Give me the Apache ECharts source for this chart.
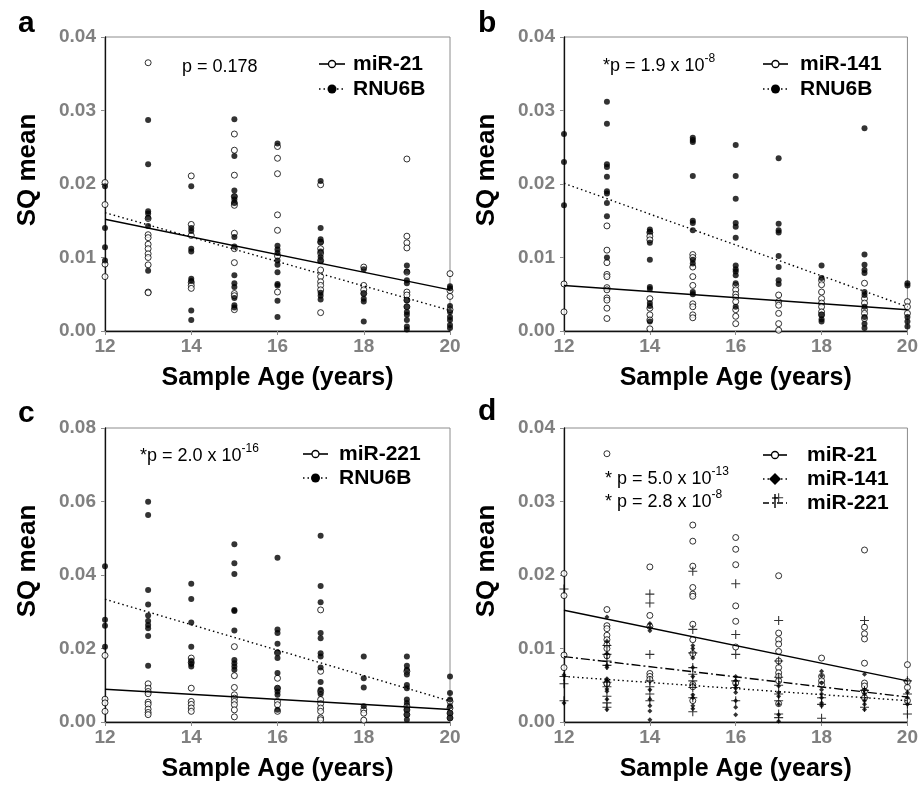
<!DOCTYPE html>
<html>
<head>
<meta charset="utf-8">
<script src="https://cdn.jsdelivr.net/npm/echarts@6/dist/echarts.min.js"></script>
<style>
html,body{margin:0;padding:0;background:#fff;}
#chart{width:921px;height:785px;}
</style>
</head>
<body>
<div id="chart"></div>
<script>
// ---------- DATA ----------
const ages = [12, 13, 14, 15, 16, 17, 18, 19, 20];
const fitAges = [12, 20];

// miR-21 SQ mean values per age (panels a and d)
const mir21 = [
  [0.0202, 0.0172, 0.0091, 0.0074],
  [0.0365, 0.0153, 0.0131, 0.0127, 0.0118, 0.0112, 0.0105, 0.0100, 0.0090, 0.0053, 0.0052],
  [0.0211, 0.0145, 0.0130, 0.0066, 0.0062, 0.0058],
  [0.0268, 0.0246, 0.0212, 0.0183, 0.0174, 0.0171, 0.0133, 0.0112, 0.0093, 0.0051, 0.0048, 0.0029],
  [0.0251, 0.0235, 0.0214, 0.0158, 0.0137, 0.0102, 0.0053],
  [0.0199, 0.0121, 0.0112, 0.0106, 0.0096, 0.0083, 0.0074, 0.0067, 0.0062, 0.0056, 0.0025],
  [0.0087, 0.0062, 0.0056, 0.0051],
  [0.0234, 0.0129, 0.0120, 0.0113, 0.0080, 0.0053, 0.0049, 0.0042, 0.0033],
  [0.0078, 0.0055, 0.0047, 0.0029]
];
// RNU6B values in panel a
const rnu6bA = [
  [0.0197, 0.0140, 0.0114, 0.0096],
  [0.0287, 0.0227, 0.0163, 0.0160, 0.0154, 0.0143, 0.0082],
  [0.0197, 0.0140, 0.0136, 0.0112, 0.0108, 0.0071, 0.0068, 0.0028, 0.0015],
  [0.0288, 0.0238, 0.0191, 0.0183, 0.0179, 0.0174, 0.0128, 0.0115, 0.0076, 0.0065, 0.0060, 0.0045, 0.0035, 0.0032],
  [0.0255, 0.0116, 0.0111, 0.0106, 0.0096, 0.0090, 0.0080, 0.0064, 0.0062, 0.0041, 0.0019],
  [0.0204, 0.0140, 0.0125, 0.0121, 0.0108, 0.0101, 0.0095, 0.0052, 0.0048, 0.0043],
  [0.0084, 0.0051, 0.0044, 0.0040, 0.0013],
  [0.0089, 0.0081, 0.0069, 0.0065, 0.0042, 0.0033, 0.0026, 0.0022, 0.0015, 0.0006, 0.0002],
  [0.0061, 0.0058, 0.0034, 0.0026, 0.0019, 0.0015, 0.0008, 0.0004]
];
// miR-141 values (panels b and d)
const mir141 = [
  [0.0064, 0.0026],
  [0.0143, 0.0110, 0.0093, 0.0077, 0.0074, 0.0059, 0.0056, 0.0045, 0.0042, 0.0031, 0.0017],
  [0.0134, 0.0129, 0.0124, 0.0044, 0.0031, 0.0022, 0.0015, 0.0003],
  [0.0104, 0.0100, 0.0087, 0.0074, 0.0062, 0.0037, 0.0033, 0.0022, 0.0018],
  [0.0062, 0.0056, 0.0050, 0.0046, 0.0040, 0.0029, 0.0020, 0.0010],
  [0.0049, 0.0040, 0.0035, 0.0024, 0.0010, 0.0001],
  [0.0069, 0.0063, 0.0053, 0.0044, 0.0038, 0.0033, 0.0026, 0.0022],
  [0.0065, 0.0044, 0.0038, 0.0029, 0.0024, 0.0017],
  [0.0040, 0.0033, 0.0024]
];
// RNU6B values in panel b
const rnu6bB = [
  [0.0268, 0.0230, 0.0171],
  [0.0312, 0.0282, 0.0227, 0.0223, 0.0210, 0.0190, 0.0187, 0.0174, 0.0156, 0.0100],
  [0.0138, 0.0135, 0.0120, 0.0097, 0.0060, 0.0057, 0.0038, 0.0034, 0.0013],
  [0.0263, 0.0260, 0.0257, 0.0211, 0.0150, 0.0147, 0.0137, 0.0097, 0.0092, 0.0053, 0.0050],
  [0.0253, 0.0211, 0.0180, 0.0147, 0.0142, 0.0127, 0.0089, 0.0084, 0.0081, 0.0076, 0.0065, 0.0033],
  [0.0235, 0.0146, 0.0137, 0.0134, 0.0102, 0.0087, 0.0069, 0.0064],
  [0.0089, 0.0072, 0.0022, 0.0016, 0.0013],
  [0.0276, 0.0104, 0.0090, 0.0083, 0.0079, 0.0053, 0.0049, 0.0033, 0.0019, 0.0010, 0.0004],
  [0.0065, 0.0062, 0.0019, 0.0013, 0.0006]
];
// miR-221 values (panels c and d)
const mir221 = [
  [0.0181, 0.0062, 0.0052, 0.0029],
  [0.0104, 0.0092, 0.0083, 0.0077, 0.0054, 0.0048, 0.0035, 0.0026, 0.0020],
  [0.0174, 0.0162, 0.0092, 0.0056, 0.0048, 0.0038, 0.0029],
  [0.0205, 0.0126, 0.0094, 0.0074, 0.0065, 0.0056, 0.0047, 0.0033, 0.0014],
  [0.0188, 0.0119, 0.0092, 0.0056, 0.0047, 0.0029],
  [0.0305, 0.0138, 0.0083, 0.0061, 0.0050, 0.0038, 0.0029, 0.0011, 0.0006],
  [0.0033, 0.0024, 0.0005],
  [0.0138, 0.0043, 0.0033, 0.0020],
  [0.0056, 0.0038, 0.0024, 0.0011]
];
// RNU6B values in panel c
const rnu6bC = [
  [0.0424, 0.0278, 0.0262, 0.0205],
  [0.0599, 0.0563, 0.0359, 0.0320, 0.0290, 0.0275, 0.0264, 0.0255, 0.0234, 0.0153],
  [0.0376, 0.0335, 0.0271, 0.0205, 0.0167, 0.0158, 0.0151],
  [0.0484, 0.0432, 0.0403, 0.0305, 0.0302, 0.0249, 0.0169, 0.0160, 0.0151, 0.0142],
  [0.0447, 0.0252, 0.0242, 0.0213, 0.0190, 0.0174, 0.0133, 0.0092, 0.0083, 0.0074, 0.0033],
  [0.0507, 0.0370, 0.0326, 0.0242, 0.0228, 0.0187, 0.0178, 0.0148, 0.0109, 0.0088, 0.0076],
  [0.0178, 0.0119, 0.0094, 0.0043],
  [0.0178, 0.0153, 0.0142, 0.0129, 0.0101, 0.0092, 0.0061, 0.0052, 0.0033, 0.0020, 0.0006],
  [0.0124, 0.0079, 0.0061, 0.0043, 0.0024, 0.0011]
];
// regression lines (value at age 12 and at age 20)
const mir21Fit = [0.0152, 0.0056];
const rnu6bFitA = [0.0161, 0.0028];
const mir141Fit = [0.0062, 0.0029];
const rnu6bFitB = [0.0201, 0.0033];
const mir221Fit = [0.0089, 0.0034];
const rnu6bFitC = [0.0334, 0.0057];

const yMaxes = [0.04, 0.04, 0.08, 0.04];
const yIntervals = [0.01, 0.01, 0.02, 0.01];
const xTitle = 'Sample Age (years)';
const yTitle = 'SQ mean';

// ---------- BUILD ----------
const FONT = '"Liberation Sans", Arial, sans-serif';
function pts(vals) {
  const out = [];
  ages.forEach((a, i) => vals[i].forEach(v => out.push([a, v])));
  return out;
}
function fit(vals) { return fitAges.map((a, i) => [a, vals[i]]); }

const grids = [
  {left: 105, top: 37, width: 345, height: 294},
  {left: 564, top: 37, width: 345, height: 294},
  {left: 105, top: 428, width: 345, height: 294},
  {left: 564, top: 428, width: 345, height: 294}
].map(g => Object.assign(g, {show: true, borderColor: '#8c8c8c', borderWidth: 1, containLabel: false}));

const xAxes = grids.map((g, i) => ({
  type: 'value', gridIndex: i, min: 12, max: 20, interval: 2,
  name: xTitle, nameLocation: 'middle', nameGap: 35,
  nameTextStyle: {fontFamily: FONT, fontWeight: 'bold', fontSize: 25, color: '#000'},
  axisLine: {show: true, onZero: false, lineStyle: {color: '#111', width: 1.3}},
  axisTick: {show: true, length: 4, lineStyle: {color: '#8c8c8c'}},
  axisLabel: {fontFamily: FONT, fontWeight: 'bold', fontSize: 19, color: '#808080', margin: 6},
  splitLine: {show: false}
}));
const yAxes = grids.map((g, i) => ({
  type: 'value', gridIndex: i, min: 0, max: yMaxes[i], interval: yIntervals[i],
  name: yTitle, nameLocation: 'middle', nameGap: 64, nameRotate: 90,
  nameTextStyle: {fontFamily: FONT, fontWeight: 'bold', fontSize: 26, color: '#000', padding: [0, 0, 0, 28]},
  axisLine: {show: true, lineStyle: {color: '#111', width: 1.3}},
  axisTick: {show: true, length: 4, lineStyle: {color: '#8c8c8c'}},
  axisLabel: {fontFamily: FONT, fontWeight: 'bold', fontSize: 19, color: '#808080', margin: 9,
    formatter: v => v.toFixed(2)},
  splitLine: {show: false}
}));

const openStyle = {color: '#fff', borderColor: '#000', borderWidth: 1};
const fillStyle = {color: '#000'};
const PLUS = 'path://M4.4,0h1.2v4.4h4.4v1.2h-4.4v4.4h-1.2v-4.4h-4.4v-1.2h4.4z';

function scatter(idx, name, vals, style, symbol, size) {
  return {type: 'scatter', name: name, xAxisIndex: idx, yAxisIndex: idx, data: pts(vals),
    symbol: symbol || 'circle', symbolSize: size || 6, itemStyle: style, z: 2};
}
function line(idx, name, vals, type) {
  return {type: 'line', name: name, xAxisIndex: idx, yAxisIndex: idx, data: fit(vals),
    symbol: 'none', silent: true, z: 3,
    lineStyle: {color: '#000', width: 1.4, type: type}};
}
const DOT = [1.5, 3];
const DASHDOT = [9, 3, 2, 3];

const series = [
  scatter(0, 'miR-21', mir21, openStyle),
  scatter(0, 'RNU6B', rnu6bA, fillStyle),
  line(0, 'miR-21 fit', mir21Fit, 'solid'),
  line(0, 'RNU6B fit', rnu6bFitA, DOT),

  scatter(1, 'miR-141', mir141, openStyle),
  scatter(1, 'RNU6B', rnu6bB, fillStyle),
  line(1, 'miR-141 fit', mir141Fit, 'solid'),
  line(1, 'RNU6B fit', rnu6bFitB, DOT),

  scatter(2, 'miR-221', mir221, openStyle),
  scatter(2, 'RNU6B', rnu6bC, fillStyle),
  line(2, 'miR-221 fit', mir221Fit, 'solid'),
  line(2, 'RNU6B fit', rnu6bFitC, DOT),

  scatter(3, 'miR-21', mir21, openStyle),
  scatter(3, 'miR-141', mir141, fillStyle, 'diamond', 5),
  scatter(3, 'miR-221', mir221, fillStyle, PLUS, 9),
  line(3, 'miR-21 fit', mir21Fit, 'solid'),
  line(3, 'miR-141 fit', mir141Fit, DOT),
  line(3, 'miR-221 fit', mir221Fit, DASHDOT)
];

// ---------- ANNOTATIONS (legends, p-values, panel letters) ----------
const graphics = [];
function txt(x, y, text, font, align) {
  graphics.push({type: 'text', silent: true, z: 10,
    style: {x: x, y: y, text: text, font: font, fill: '#000', align: align || 'left', verticalAlign: 'middle'}});
}
function legendRow(x1, x2, y, dash, marker, tx, label) {
  graphics.push({type: 'line', silent: true, z: 10, shape: {x1: x1, y1: y, x2: x2, y2: y},
    style: {stroke: '#000', lineWidth: 1.6, lineDash: dash}});
  const cx = (x1 + x2) / 2;
  if (marker === 'open') {
    graphics.push({type: 'circle', silent: true, z: 11, shape: {cx: cx, cy: y, r: 3.5},
      style: {fill: '#fff', stroke: '#000', lineWidth: 1.3}});
  } else if (marker === 'filled') {
    graphics.push({type: 'circle', silent: true, z: 11, shape: {cx: cx, cy: y, r: 4.5},
      style: {fill: '#000'}});
  } else if (marker === 'diamond') {
    graphics.push({type: 'polygon', silent: true, z: 11,
      shape: {points: [[cx, y - 6], [cx + 6, y], [cx, y + 6], [cx - 6, y]]}, style: {fill: '#000'}});
  } else if (marker === 'plus') {
    graphics.push({type: 'line', silent: true, z: 11, shape: {x1: cx, y1: y - 9, x2: cx, y2: y + 5},
      style: {stroke: '#000', lineWidth: 1.4}});
    graphics.push({type: 'line', silent: true, z: 11, shape: {x1: cx - 3, y1: y - 5, x2: cx + 3, y2: y - 5},
      style: {stroke: '#000', lineWidth: 1.2}});
  }
  txt(tx, y, label, 'bold 21px ' + FONT);
}
function pText(x, y, main, sup) {
  const t = sup ? '{m|' + main + '}{s|' + sup + '}' : '{m|' + main + '}';
  graphics.push({type: 'text', silent: true, z: 10,
    style: {x: x, y: y, text: t, align: 'left', verticalAlign: 'middle',
      rich: {
        m: {fontFamily: FONT, fontSize: 18, fill: '#000', lineHeight: 22, verticalAlign: 'bottom'},
        s: {fontFamily: FONT, fontSize: 12, fill: '#000', lineHeight: 11, verticalAlign: 'top'}
      }}});
}
// panel letters
txt(18, 24, 'a', 'bold 30px ' + FONT);
txt(478, 24, 'b', 'bold 30px ' + FONT);
txt(18, 414, 'c', 'bold 30px ' + FONT);
txt(478, 412, 'd', 'bold 30px ' + FONT);

// panel a
pText(182, 65, 'p = 0.178');
legendRow(319, 345, 64, null, 'open', 353, 'miR-21');
legendRow(319, 345, 89, DOT, 'filled', 353, 'RNU6B');
// panel b
pText(603, 64, '*p = 1.9 x 10', '-8');
legendRow(763, 788, 64, null, 'open', 800, 'miR-141');
legendRow(763, 788, 89, DOT, 'filled', 800, 'RNU6B');
// panel c
pText(140, 454, '*p = 2.0 x 10', '-16');
legendRow(303, 328, 454, null, 'open', 339, 'miR-221');
legendRow(303, 328, 478, DOT, 'filled', 339, 'RNU6B');
// panel d
pText(605, 477, '* p = 5.0 x 10', '-13');
pText(605, 500, '* p = 2.8 x 10', '-8');
legendRow(763, 787, 455, null, 'open', 807, 'miR-21');
legendRow(763, 787, 479, DOT, 'diamond', 807, 'miR-141');
legendRow(763, 787, 503, [6, 3, 2, 3], 'plus', 807, 'miR-221');

const chart = echarts.init(document.getElementById('chart'), null, {renderer: 'canvas'});
chart.setOption({
  backgroundColor: '#fff',
  animation: false,
  grid: grids,
  xAxis: xAxes,
  yAxis: yAxes,
  series: series,
  graphic: graphics
});
</script>
</body>
</html>
